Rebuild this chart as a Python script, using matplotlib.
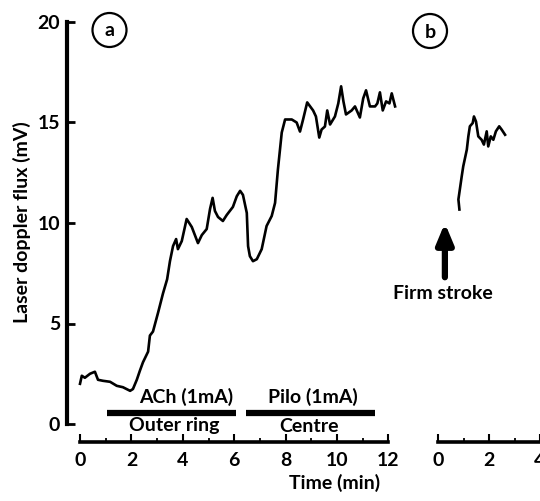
import matplotlib
matplotlib.use("Agg")
import matplotlib.pyplot as plt
from matplotlib.patches import Ellipse

plt.rcParams['font.family'] = ['Lato', 'DejaVu Sans']
plt.rcParams['font.weight'] = 'bold'

# ---- data ------------------------------------------------------------------
t_a = [0.0, 0.07, 0.19, 0.39, 0.58, 0.70, 0.89, 1.17, 1.43, 1.67, 1.95, 2.06,
       2.21, 2.33, 2.45, 2.65, 2.72, 2.84, 3.04, 3.23, 3.39, 3.50, 3.62, 3.74,
       3.81, 3.96, 4.15, 4.35, 4.59, 4.74, 4.93, 5.06, 5.16, 5.25, 5.37, 5.56,
       5.71, 5.95, 6.10, 6.23, 6.34, 6.49, 6.54, 6.61, 6.73, 6.88, 7.07, 7.26,
       7.46, 7.59, 7.70, 7.85, 7.98, 8.24, 8.43, 8.56, 8.68, 8.84, 9.07, 9.18,
       9.31, 9.40, 9.53, 9.62, 9.73, 9.92, 10.05, 10.16, 10.25, 10.35, 10.57,
       10.70, 10.89, 11.02, 11.13, 11.28, 11.48, 11.57, 11.67, 11.78, 11.91,
       12.04, 12.13, 12.26]
flux_a = [2.0, 2.4, 2.3, 2.5, 2.6, 2.2, 2.15, 2.1, 1.9, 1.83, 1.65, 1.74,
          2.2, 2.65, 3.07, 3.6, 4.4, 4.6, 5.55, 6.5, 7.2, 8.1, 8.85, 9.2,
          8.7, 9.1, 10.2, 9.8, 9.0, 9.4, 9.7, 10.7, 11.25, 10.6, 10.3, 10.1,
          10.4, 10.8, 11.33, 11.6, 11.4, 10.5, 8.85, 8.35, 8.1, 8.2, 8.7, 9.85,
          10.35, 11.0, 12.65, 14.5, 15.15, 15.15, 15.0, 14.55, 15.15, 16.0, 15.6, 15.3,
          14.25, 14.65, 14.8, 15.6, 14.9, 15.3, 15.95, 16.8, 16.05, 15.4, 15.6,
          15.8, 15.25, 16.2, 16.6, 15.8, 15.8, 15.95, 16.5, 15.6, 16.05,
          15.95, 16.45, 15.8]

t_b = [0.84, 0.80, 0.93, 0.99, 1.13, 1.19, 1.25, 1.36, 1.41, 1.49, 1.58, 1.71,
       1.80, 1.91, 1.97, 2.07, 2.17, 2.27, 2.40, 2.50, 2.63]
flux_b = [10.67, 11.17, 12.32, 12.82, 13.65, 14.31, 14.81, 14.97, 15.30, 15.05,
          14.31, 14.14, 13.90, 14.56, 13.81, 14.31, 14.14, 14.56, 14.81, 14.64, 14.39]

# stimulation bars: (start, end, label above, label below)
bar_start = [1.05, 6.46]
bar_end = [6.07, 11.48]
bar_top = ['ACh (1mA)', 'Pilo (1mA)']
bar_bottom = ['Outer ring', 'Centre']

W, H = 540, 501
FS = 14
fig = plt.figure(figsize=(5.4, 5.01), dpi=100)

def px_axes(x0, x1, y0, y1):
    return fig.add_axes([x0 / W, 1 - y0 / H, (x1 - x0) / W, (y0 - y1) / H])

# panel a: 0 min at x=80, 25.7 px/min; 0 mV at y=424, 20.1 px/mV
axa = px_axes(80 - 0.5 * 25.7, 80 + 12.5 * 25.7, 424 + 0.9 * 20.1, 424 - 20.3 * 20.1)
axa.set_xlim(-0.5, 12.5)
axa.set_ylim(-0.9, 20.3)
axa.plot(t_a, flux_a, color='black', lw=1.9)

for s, e in zip(bar_start, bar_end):
    axa.plot([s, e], [0.55, 0.55], color='black', lw=4.5, solid_capstyle='butt')
axa.text(4.12, 1.35, bar_top[0], ha='center', va='center', fontsize=FS)
axa.text(3.66, -0.05, bar_bottom[0], ha='center', va='center', fontsize=FS)
axa.text(9.05, 1.35, bar_top[1], ha='center', va='center', fontsize=FS)
axa.text(8.9, -0.1, bar_bottom[1], ha='center', va='center', fontsize=FS)

for sp in ['top', 'right']:
    axa.spines[sp].set_visible(False)
axa.spines['left'].set_linewidth(3.0)
axa.spines['left'].set_bounds(0, 20)
axa.spines['bottom'].set_linewidth(2.6)
axa.spines['bottom'].set_bounds(0, 12)
axa.set_yticks([0, 5, 10, 15, 20])
axa.set_xticks(range(0, 13, 2))
axa.set_xticks(range(1, 13, 2), minor=True)
axa.tick_params(axis='y', direction='in', length=6, width=2, labelsize=FS, pad=5)
axa.tick_params(axis='x', which='major', direction='in', length=6, width=1.5,
                labelsize=FS, pad=7)
axa.tick_params(axis='x', which='minor', direction='in', length=3, width=1.3)
axa.patch.set_visible(False)

# panel b: 0 min at x=438, 25.5 px/min
axb = px_axes(438 - 0.2 * 25.5, 438 + 4.6 * 25.5, 424 + 0.9 * 20.1, 424 - 20.3 * 20.1)
axb.set_xlim(-0.2, 4.6)
axb.set_ylim(-0.9, 20.3)
axb.plot(t_b, flux_b, color='black', lw=1.9)
for sp in ['top', 'right', 'left']:
    axb.spines[sp].set_visible(False)
axb.spines['bottom'].set_linewidth(2.6)
axb.spines['bottom'].set_bounds(0, 4.6)
axb.set_yticks([])
axb.set_xticks([0, 2, 4])
axb.set_xticks([1, 3], minor=True)
axb.tick_params(axis='x', which='major', direction='in', length=6, width=1.5,
                labelsize=FS, pad=7)
axb.tick_params(axis='x', which='minor', direction='in', length=3, width=1.3)
axb.patch.set_visible(False)
axb.annotate('', xy=(0.27, 10.0), xytext=(0.27, 7.3),
             arrowprops=dict(arrowstyle='-|>,head_width=0.5,head_length=1.2',
                             color='black', lw=4.5, shrinkA=0, shrinkB=0))
axb.text(0.2, 6.5, 'Firm stroke', ha='center', va='center', fontsize=FS)

# circled panel letters
for cx, cy, letter in [(109.5, 30, 'a'), (430, 31, 'b')]:
    fig.patches.append(Ellipse((cx / W, 1 - cy / H), 34 / W, 34 / H,
                               transform=fig.transFigure, fill=False,
                               lw=1.6, color='black'))
    fig.text(cx / W, 1 - (cy + 1) / H, letter, ha='center', va='center', fontsize=FS)

fig.text(22 / W, 1 - 222 / H, 'Laser doppler flux (mV)', rotation=90,
         ha='center', va='center', fontsize=FS)
fig.text(335 / W, 1 - 483 / H, 'Time (min)', ha='center', va='center', fontsize=FS)

fig.savefig('out.png', dpi=100)
